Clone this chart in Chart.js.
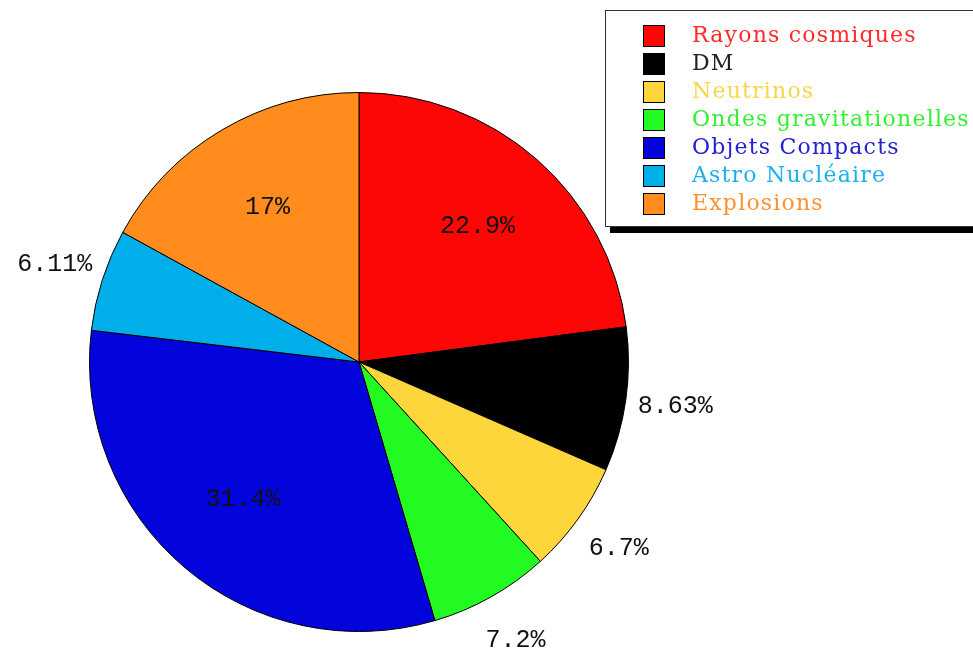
<!DOCTYPE html>
<html>
<head>
<meta charset="utf-8">
<script src="https://cdn.jsdelivr.net/npm/chart.js@4/dist/chart.umd.min.js"></script>
<style>
  html, body { margin: 0; padding: 0; background: #fff; }
  #wrap { position: relative; width: 973px; height: 654px; overflow: hidden; }
  #legend {
    position: absolute; left: 605px; top: 10px; width: 380px; height: 217px;
    border: 1px solid #333; background: #fff; box-shadow: 5px 6px 0 #000;
    box-sizing: border-box;
  }
  .item { position: absolute; left: 37px; height: 28px; white-space: nowrap;
    font-family: "DejaVu Serif", serif; font-size: 22px; line-height: 28px; letter-spacing: 1.2px; }
  .sw { position: absolute; left: 0; top: 1px; width: 20px; height: 20px; border: 1px solid #000; }
  .tx { position: absolute; left: 49px; top: -3px; }
</style>
</head>
<body>
<div id="wrap">
  <canvas id="c" width="973" height="654"></canvas>
  <div id="legend"></div>
</div>
<script>
const categories = ["Rayons cosmiques", "DM", "Neutrinos", "Ondes gravitationelles", "Objets Compacts", "Astro Nucléaire", "Explosions"];
const values = [22.9, 8.63, 6.7, 7.2, 31.4, 6.11, 17];
const valueLabels = ["22.9%", "8.63%", "6.7%", "7.2%", "31.4%", "6.11%", "17%"];
const sliceColors = ["#fe0606", "#000000", "#fcd63a", "#22fa22", "#0303dc", "#00aeea", "#ff8c1c"];
const legendTextColors = ["#ff2a2a", "#222222", "#f8d64a", "#33f033", "#2222d0", "#1cb0f0", "#ff9030"];
const insideLabel = [true, false, false, false, true, false, true];

// legend (HTML text)
const leg = document.getElementById('legend');
categories.forEach((name, i) => {
  const d = document.createElement('div');
  d.className = 'item';
  d.style.top = (13 + i * 28) + 'px';
  d.innerHTML = '<div class="sw" style="background:' + sliceColors[i] + '"></div><div class="tx" style="color:' + legendTextColors[i] + '">' + name + '</div>';
  leg.appendChild(d);
});

const labelPlugin = {
  id: 'sliceLabels',
  afterDatasetsDraw(chart) {
    const ctx = chart.ctx;
    const meta = chart.getDatasetMeta(0);
    ctx.save();
    ctx.font = '25px "Liberation Mono", monospace';
    ctx.fillStyle = '#111';
    ctx.textAlign = 'center';
    ctx.textBaseline = 'middle';
    meta.data.forEach((arc, i) => {
      const p = arc.getProps(['x', 'y', 'startAngle', 'endAngle', 'outerRadius'], true);
      const mid = (p.startAngle + p.endAngle) / 2;
      const r = insideLabel[i] ? p.outerRadius * 0.667 : p.outerRadius + 50;
      ctx.fillText(valueLabels[i], p.x + Math.cos(mid) * r, p.y + Math.sin(mid) * r);
    });
    ctx.restore();
  }
};

new Chart(document.getElementById('c'), {
  type: 'pie',
  data: {
    labels: categories,
    datasets: [{
      data: values,
      backgroundColor: sliceColors,
      borderColor: '#000',
      borderWidth: 1
    }]
  },
  options: {
    responsive: false,
    animation: false,
    layout: { padding: { left: 89, top: 92, right: 344, bottom: 22 } },
    plugins: { legend: { display: false }, tooltip: { enabled: false } }
  },
  plugins: [labelPlugin]
});
</script>
</body>
</html>
